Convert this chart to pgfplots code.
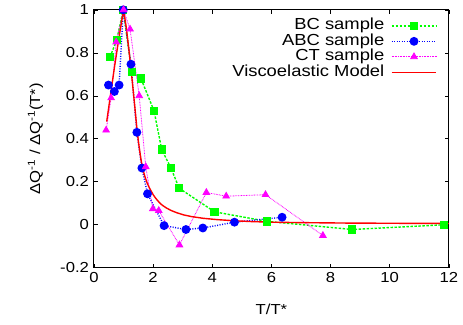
\documentclass[border=0pt]{standalone}
\usepackage{pgfplots}
\pgfplotsset{compat=1.18}
\usepackage{fontspec}
\setmainfont[FakeStretch=1.15]{Liberation Sans}
\newcommand{\lblfont}{\fontsize{14.5}{16}\selectfont}
\newcommand{\legfont}{\fontsize{16}{17.5}\selectfont}
\definecolor{gpgreen}{RGB}{0,255,0}
\definecolor{gpblue}{RGB}{0,0,255}
\definecolor{gpmagenta}{RGB}{255,0,255}
\definecolor{gpred}{RGB}{255,0,0}
\begin{document}
\lblfont
\begin{tikzpicture}
\begin{axis}[
  scale only axis,
  width=355pt, height=258pt,
  xmin=0, xmax=12, ymin=-0.2, ymax=1,
  xtick={0,2,4,6,8,10,12},
  ytick={-0.2,0,0.2,0.4,0.6,0.8,1},
  tick align=inside,
  tick pos=both,
  major tick length=4pt,
  /pgf/number format/assume math mode=true,
  ticklabel style={font=\lblfont},
  yticklabel style={/pgf/number format/fixed},
  axis line style={line width=1pt},
  every tick/.style={black, line width=0.6pt},
  xlabel={T/T*},
  ylabel={ΔQ\textsuperscript{-1} / ΔQ\textsuperscript{-1}(T*)},
  xlabel style={at={(axis description cs:0.5,-0.163)}, anchor=center, font=\lblfont},
  ylabel style={at={(axis description cs:-0.165,0.5)}, anchor=center, rotate=0, font=\lblfont},
  legend style={at={(axis description cs:0.967,0.967)}, anchor=north east, draw=none, fill=none,
    overlay, inner sep=0pt, outer sep=0pt,
    font=\legfont, nodes={font=\legfont, inner sep=0.5pt, text height=0.75em, text depth=0.22em},
    row sep=0.4pt, column sep=6pt},
  legend cell align=right,
  legend plot pos=right,
  legend image code/.code={\draw[mark repeat=2,mark phase=2] plot coordinates {(0cm,0cm) (0.79cm,0cm) (1.58cm,0cm)};},
  clip=false,
]
\addplot[color=gpgreen, line width=1.4pt, dash pattern=on 2.5pt off 1.5pt,
  mark=square*, mark size=3.5pt, mark options={solid}] coordinates {
(0.54,0.78) (0.77,0.86) (0.99,1.0) (1.28,0.71) (1.59,0.68) (2.03,0.53) (2.29,0.35)
(2.60,0.265) (2.88,0.17) (4.08,0.06) (5.85,0.016) (8.73,-0.022) (11.84,0.0)
};
\addlegendentry{BC sample}
\addplot[color=gpblue, line width=1.4pt, dash pattern=on 1pt off 1.5pt,
  mark=*, mark size=3.7pt, mark options={solid}] coordinates {
(0.49,0.65) (0.69,0.62) (0.85,0.65) (0.99,1.0) (1.25,0.747) (1.45,0.43) (1.62,0.264)
(1.81,0.144) (2.37,-0.004) (3.11,-0.022) (3.68,-0.015) (4.75,0.012) (6.36,0.035)
};
\addlegendentry{ABC sample}
\addplot[color=gpmagenta, line width=0.8pt, dash pattern=on 0.8pt off 0.8pt,
  mark=triangle*, mark size=3.8pt, mark options={solid}] coordinates {
(0.41,0.44) (0.58,0.59) (0.75,0.85) (1.0,1.0) (1.22,0.91) (1.53,0.60) (1.75,0.27)
(1.99,0.074) (2.19,0.066) (2.89,-0.094) (3.80,0.15) (4.47,0.133) (5.80,0.14) (7.74,-0.05)
};
\addlegendentry{CT sample}
\addplot[color=gpred, line width=1.4pt, no marks] coordinates {
(0.43,0.48) (0.55,0.595) (0.70,0.74) (0.85,0.875) (1.0,1.0) (1.10,0.91) (1.20,0.79) (1.30,0.66)
(1.38,0.55) (1.45,0.45) (1.50,0.39) (1.55,0.34) (1.60,0.295) (1.66,0.255) (1.72,0.225)
(1.79,0.197) (1.86,0.175) (1.94,0.155) (2.01,0.138) (2.10,0.121) (2.20,0.105) (2.30,0.092)
(2.45,0.078) (2.60,0.067) (2.80,0.056) (3.03,0.046) (3.30,0.038) (3.70,0.030)
(4.16,0.024) (4.70,0.019) (5.30,0.015) (6.0,0.012) (7.0,0.010) (8.5,0.008) (10.0,0.007) (12.0,0.006)
};
\addlegendentry{Viscoelastic Model}
\end{axis}
\path (current axis.south west) +(-94pt,-57pt);
\path (current axis.north east) +(14pt,8pt);
\end{tikzpicture}
\end{document}
